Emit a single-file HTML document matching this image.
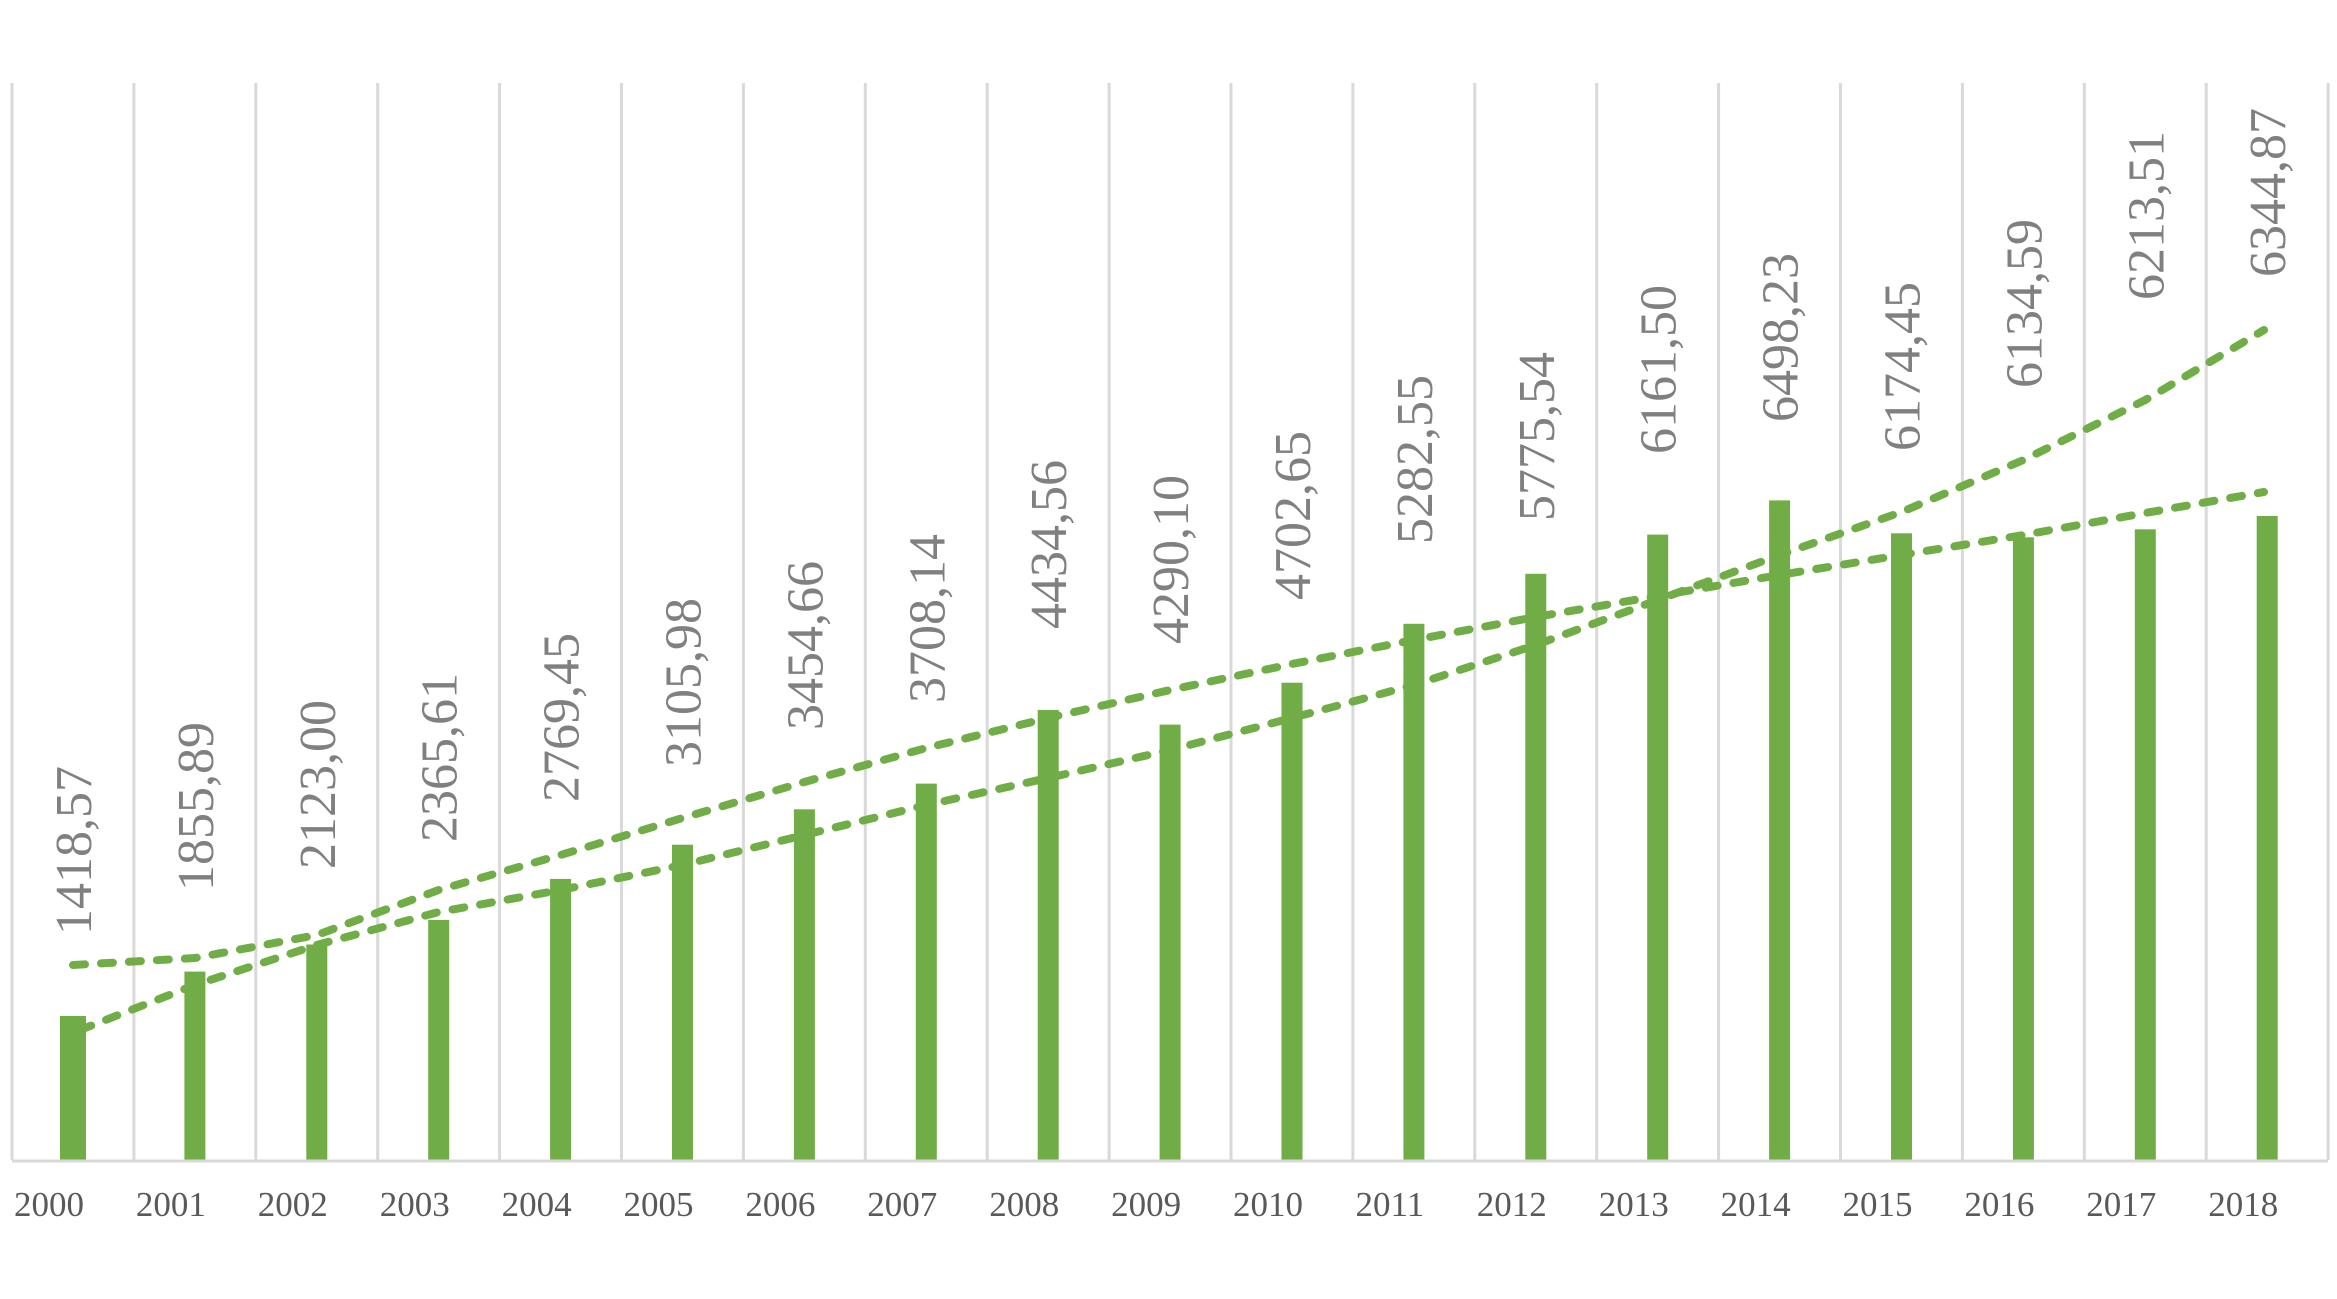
<!DOCTYPE html>
<html><head><meta charset="utf-8"><style>
html,body{margin:0;padding:0;background:#fff;}
svg{display:block;}
.d{font-family:"Liberation Serif",serif;font-size:52px;fill:#808080;}
.y{font-family:"Liberation Serif",serif;font-size:35px;fill:#595959;}
</style></head><body>
<svg width="2337" height="1299" viewBox="0 0 2337 1299" xmlns="http://www.w3.org/2000/svg">
<rect width="2337" height="1299" fill="#fff"/>
<g stroke="#d9d9d9" stroke-width="3">
<line x1="12" y1="83" x2="12" y2="1160"/><line x1="133.9" y1="83" x2="133.9" y2="1160"/><line x1="255.8" y1="83" x2="255.8" y2="1160"/><line x1="377.7" y1="83" x2="377.7" y2="1160"/><line x1="499.6" y1="83" x2="499.6" y2="1160"/><line x1="621.5" y1="83" x2="621.5" y2="1160"/><line x1="743.4" y1="83" x2="743.4" y2="1160"/><line x1="865.3" y1="83" x2="865.3" y2="1160"/><line x1="987.2" y1="83" x2="987.2" y2="1160"/><line x1="1109.1" y1="83" x2="1109.1" y2="1160"/><line x1="1231" y1="83" x2="1231" y2="1160"/><line x1="1352.9" y1="83" x2="1352.9" y2="1160"/><line x1="1474.8" y1="83" x2="1474.8" y2="1160"/><line x1="1596.7" y1="83" x2="1596.7" y2="1160"/><line x1="1718.6" y1="83" x2="1718.6" y2="1160"/><line x1="1840.5" y1="83" x2="1840.5" y2="1160"/><line x1="1962.4" y1="83" x2="1962.4" y2="1160"/><line x1="2084.3" y1="83" x2="2084.3" y2="1160"/><line x1="2206.2" y1="83" x2="2206.2" y2="1160"/><line x1="2328.1" y1="83" x2="2328.1" y2="1160"/>
</g>
<g fill="#70ad47">
<rect x="60" y="1016" width="26" height="144"/>
<rect x="184.4" y="971.6" width="21" height="188.4"/>
<rect x="306.3" y="944.5" width="21" height="215.5"/>
<rect x="428.2" y="919.9" width="21" height="240.1"/>
<rect x="550.1" y="878.9" width="21" height="281.1"/>
<rect x="672" y="844.7" width="21" height="315.3"/>
<rect x="793.9" y="809.3" width="21" height="350.7"/>
<rect x="915.8" y="783.6" width="21" height="376.4"/>
<rect x="1037.7" y="709.9" width="21" height="450.1"/>
<rect x="1159.6" y="724.6" width="21" height="435.4"/>
<rect x="1281.5" y="682.7" width="21" height="477.3"/>
<rect x="1403.4" y="623.8" width="21" height="536.2"/>
<rect x="1525.3" y="573.8" width="21" height="586.2"/>
<rect x="1647.2" y="534.6" width="21" height="625.4"/>
<rect x="1769.1" y="500.4" width="21" height="659.6"/>
<rect x="1891" y="533.3" width="21" height="626.7"/>
<rect x="2012.9" y="537.3" width="21" height="622.7"/>
<rect x="2134.8" y="529.3" width="21" height="630.7"/>
<rect x="2256.7" y="516" width="21" height="644"/>
</g>
<line x1="12" y1="1161" x2="2328" y2="1161" stroke="#d9d9d9" stroke-width="3"/>
<g fill="none" stroke="#70ad47" stroke-width="8" stroke-linecap="round" stroke-linejoin="round" stroke-dasharray="12 16">
<polyline points="73,965 194.9,958 316.8,935 438.7,890 560.6,855 682.5,818 804.4,782 926.3,748 1048.2,718 1170.1,690 1292,664 1413.9,640 1535.8,617 1657.7,596 1779.6,575 1901.5,555 2023.4,535 2145.3,513 2264,492"/>
<polyline points="80,1030 194.9,985 316.8,945 438.7,912 560.6,890 682.5,865 804.4,835 926.3,805 1048.2,778 1170.1,750 1292,718 1413.9,685 1535.8,645 1657.7,600 1779.6,555 1901.5,512 2023.4,460 2145.3,400 2264,330"/>
</g>
<g class="d">
<text x="91" y="935" transform="rotate(-90 91 935)">1418,57</text>
<text x="212.9" y="891" transform="rotate(-90 212.9 891)">1855,89</text>
<text x="334.8" y="869" transform="rotate(-90 334.8 869)">2123,00</text>
<text x="456.7" y="842" transform="rotate(-90 456.7 842)">2365,61</text>
<text x="578.6" y="802" transform="rotate(-90 578.6 802)">2769,45</text>
<text x="700.5" y="767" transform="rotate(-90 700.5 767)">3105,98</text>
<text x="822.4" y="730" transform="rotate(-90 822.4 730)">3454,66</text>
<text x="944.3" y="703" transform="rotate(-90 944.3 703)">3708,14</text>
<text x="1066.2" y="629" transform="rotate(-90 1066.2 629)">4434,56</text>
<text x="1188.1" y="644" transform="rotate(-90 1188.1 644)">4290,10</text>
<text x="1310" y="600" transform="rotate(-90 1310 600)">4702,65</text>
<text x="1431.9" y="544" transform="rotate(-90 1431.9 544)">5282,55</text>
<text x="1553.8" y="521" transform="rotate(-90 1553.8 521)">5775,54</text>
<text x="1675.7" y="454" transform="rotate(-90 1675.7 454)">6161,50</text>
<text x="1797.6" y="422" transform="rotate(-90 1797.6 422)">6498,23</text>
<text x="1919.5" y="451" transform="rotate(-90 1919.5 451)">6174,45</text>
<text x="2041.4" y="388" transform="rotate(-90 2041.4 388)">6134,59</text>
<text x="2163.3" y="300" transform="rotate(-90 2163.3 300)">6213,51</text>
<text x="2285.2" y="277" transform="rotate(-90 2285.2 277)">6344,87</text>
</g>
<g class="y" text-anchor="middle">
<text x="49" y="1216">2000</text><text x="170.9" y="1216">2001</text><text x="292.8" y="1216">2002</text><text x="414.7" y="1216">2003</text><text x="536.6" y="1216">2004</text><text x="658.5" y="1216">2005</text><text x="780.4" y="1216">2006</text><text x="902.3" y="1216">2007</text><text x="1024.2" y="1216">2008</text><text x="1146.1" y="1216">2009</text><text x="1268" y="1216">2010</text><text x="1389.9" y="1216">2011</text><text x="1511.8" y="1216">2012</text><text x="1633.7" y="1216">2013</text><text x="1755.6" y="1216">2014</text><text x="1877.5" y="1216">2015</text><text x="1999.4" y="1216">2016</text><text x="2121.3" y="1216">2017</text><text x="2243.2" y="1216">2018</text>
</g>
</svg>
</body></html>
